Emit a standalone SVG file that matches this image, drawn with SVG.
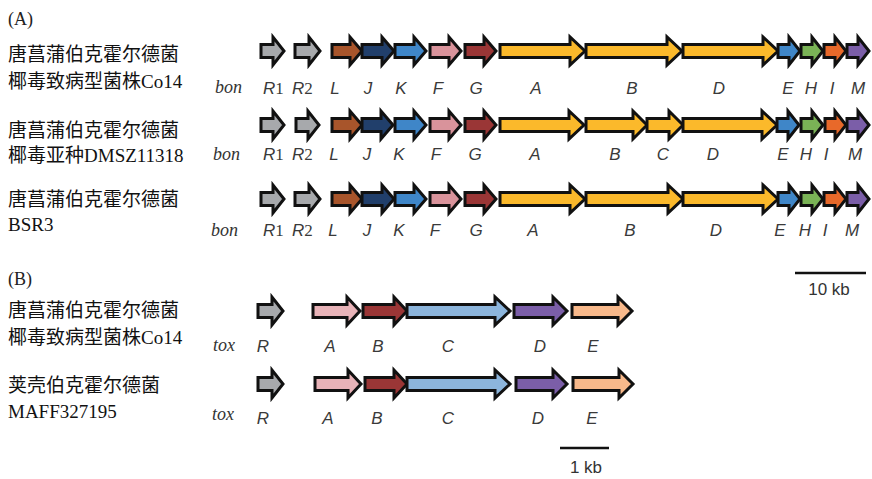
<svg xmlns="http://www.w3.org/2000/svg" width="872" height="479" viewBox="0 0 872 479">
<style>
.g path{stroke:#111;stroke-width:3;stroke-linejoin:miter}
.gl{font-family:"Liberation Sans",Arial,sans-serif;font-style:italic;font-size:17px;fill:#3a3a3a;text-anchor:middle}
.num{font-family:"Liberation Serif",serif;font-style:normal}
.sp{font-family:"Liberation Serif",serif;font-style:italic;font-size:18px;fill:#333}
.cn{font-family:"Noto Sans CJK SC",sans-serif;font-size:19px;font-weight:normal;fill:#111}
.lat{font-family:"Liberation Serif",serif;font-weight:normal}
.pl{font-family:"Liberation Serif",serif;font-size:18px;fill:#222}
.sb{font-family:"Liberation Sans",Arial,sans-serif;font-size:17px;fill:#333;text-anchor:middle}
.gray{fill:#a7a9ac}.brown{fill:#a8552b}.navy{fill:#213f6b}.blue{fill:#3f86c8}
.pink{fill:#d9939b}.red{fill:#9a3636}.yel{fill:#fbb92b}.green{fill:#7ab356}
.orange{fill:#e8692a}.purple{fill:#7b5ea8}.lpink{fill:#e8b3b8}.lblue{fill:#8cb5dc}.peach{fill:#f8b98b}
</style>

<text class="pl" x="8" y="25">(A)</text>
<text class="pl" x="8" y="285">(B)</text>

<g id="strain-a1">
<text class="cn" x="8" y="61">唐菖蒲伯克霍尔德菌</text>
<text class="cn" x="8" y="88">椰毒致病型菌株<tspan class="lat">Co14</tspan></text>
<text class="sp" x="215" y="93">bon</text>
</g>
<g id="strain-a2">
<text class="cn" x="8" y="137">唐菖蒲伯克霍尔德菌</text>
<text class="cn" x="8" y="162">椰毒亚种<tspan class="lat">DMSZ11318</tspan></text>
<text class="sp" x="213" y="160">bon</text>
</g>
<g id="strain-a3">
<text class="cn" x="8" y="206">唐菖蒲伯克霍尔德菌</text>
<text class="cn" x="8" y="231"><tspan class="lat">BSR3</tspan></text>
<text class="sp" x="211" y="236">bon</text>
</g>
<g id="strain-b1">
<text class="cn" x="8" y="317">唐菖蒲伯克霍尔德菌</text>
<text class="cn" x="8" y="344">椰毒致病型菌株<tspan class="lat">Co14</tspan></text>
<text class="sp" x="213" y="351">tox</text>
</g>
<g id="strain-b2">
<text class="cn" x="8" y="392">荚壳伯克霍尔德菌</text>
<text class="cn" x="8" y="418"><tspan class="lat">MAFF327195</tspan></text>
<text class="sp" x="212" y="420">tox</text>
</g>

<!-- Row A1 -->
<g class="g" transform="translate(0,51)">
<g id="a1-R1"><path class="gray" d="M261 -6.5H273V-14L284 0L273 14V6.5H261Z"/><text class="gl" x="263" y="43" style="text-anchor:start">R<tspan class="num">1</tspan></text></g>
<g id="a1-R2"><path class="gray" d="M295 -6.5H309V-14L320 0L309 14V6.5H295Z"/><text class="gl" x="292" y="43" style="text-anchor:start">R<tspan class="num">2</tspan></text></g>
<g id="a1-L"><path class="brown" d="M332 -6.5H350V-14L362 0L350 14V6.5H332Z"/><text class="gl" x="335" y="43">L</text></g>
<g id="a1-J"><path class="navy" d="M362 -6.5H382V-14L394 0L382 14V6.5H362Z"/><text class="gl" x="368" y="43">J</text></g>
<g id="a1-K"><path class="blue" d="M395 -6.5H414V-14L426 0L414 14V6.5H395Z"/><text class="gl" x="401" y="43">K</text></g>
<g id="a1-F"><path class="pink" d="M430 -6.5H449V-14L461 0L449 14V6.5H430Z"/><text class="gl" x="438" y="43">F</text></g>
<g id="a1-G"><path class="red" d="M465 -6.5H484V-14L496 0L484 14V6.5H465Z"/><text class="gl" x="476" y="43">G</text></g>
<g id="a1-A"><path class="yel" d="M500 -6.5H570V-14L585 0L570 14V6.5H500Z"/><text class="gl" x="536" y="43">A</text></g>
<g id="a1-B"><path class="yel" d="M586 -6.5H667V-14L682 0L667 14V6.5H586Z"/><text class="gl" x="632" y="43">B</text></g>
<g id="a1-D"><path class="yel" d="M683 -6.5H763V-14L778 0L763 14V6.5H683Z"/><text class="gl" x="719" y="43">D</text></g>
<g id="a1-E"><path class="blue" d="M778 -6.5H789V-14L800 0L789 14V6.5H778Z"/><text class="gl" x="788" y="43">E</text></g>
<g id="a1-H"><path class="green" d="M801 -6.5H812V-14L823 0L812 14V6.5H801Z"/><text class="gl" x="811" y="43">H</text></g>
<g id="a1-I"><path class="orange" d="M824 -6.5H835V-14L846 0L835 14V6.5H824Z"/><text class="gl" x="832" y="43">I</text></g>
<g id="a1-M"><path class="purple" d="M847 -6.5H858V-14L869 0L858 14V6.5H847Z"/><text class="gl" x="858" y="43">M</text></g>
</g>

<!-- Row A2 -->
<g class="g" transform="translate(0,125)">
<g id="a2-R1"><path class="gray" d="M261 -6.5H273V-14L284 0L273 14V6.5H261Z"/><text class="gl" x="263" y="35" style="text-anchor:start">R<tspan class="num">1</tspan></text></g>
<g id="a2-R2"><path class="gray" d="M296 -6.5H308V-14L319 0L308 14V6.5H296Z"/><text class="gl" x="292" y="35" style="text-anchor:start">R<tspan class="num">2</tspan></text></g>
<g id="a2-L"><path class="brown" d="M332 -6.5H350V-14L362 0L350 14V6.5H332Z"/><text class="gl" x="334" y="35">L</text></g>
<g id="a2-J"><path class="navy" d="M362 -6.5H381V-14L393 0L381 14V6.5H362Z"/><text class="gl" x="367" y="35">J</text></g>
<g id="a2-K"><path class="blue" d="M395 -6.5H414V-14L426 0L414 14V6.5H395Z"/><text class="gl" x="399" y="35">K</text></g>
<g id="a2-F"><path class="pink" d="M430 -6.5H449V-14L461 0L449 14V6.5H430Z"/><text class="gl" x="436" y="35">F</text></g>
<g id="a2-G"><path class="red" d="M465 -6.5H484V-14L496 0L484 14V6.5H465Z"/><text class="gl" x="475" y="35">G</text></g>
<g id="a2-A"><path class="yel" d="M500 -6.5H569V-14L584 0L569 14V6.5H500Z"/><text class="gl" x="535" y="35">A</text></g>
<g id="a2-B"><path class="yel" d="M586 -6.5H633V-14L647 0L633 14V6.5H586Z"/><text class="gl" x="615" y="35">B</text></g>
<g id="a2-C"><path class="yel" d="M647 -6.5H669V-14L683 0L669 14V6.5H647Z"/><text class="gl" x="663" y="35">C</text></g>
<g id="a2-D"><path class="yel" d="M683 -6.5H762V-14L777 0L762 14V6.5H683Z"/><text class="gl" x="713" y="35">D</text></g>
<g id="a2-E"><path class="blue" d="M777 -6.5H788V-14L799 0L788 14V6.5H777Z"/><text class="gl" x="783" y="35">E</text></g>
<g id="a2-H"><path class="green" d="M801 -6.5H812V-14L823 0L812 14V6.5H801Z"/><text class="gl" x="806" y="35">H</text></g>
<g id="a2-I"><path class="orange" d="M825 -6.5H835V-14L846 0L835 14V6.5H825Z"/><text class="gl" x="826" y="35">I</text></g>
<g id="a2-M"><path class="purple" d="M847 -6.5H858V-14L869 0L858 14V6.5H847Z"/><text class="gl" x="855" y="35">M</text></g>
</g>

<!-- Row A3 -->
<g class="g" transform="translate(0,199)">
<g id="a3-R1"><path class="gray" d="M261 -6.5H273V-14L284 0L273 14V6.5H261Z"/><text class="gl" x="263" y="37" style="text-anchor:start">R<tspan class="num">1</tspan></text></g>
<g id="a3-R2"><path class="gray" d="M295 -6.5H309V-14L320 0L309 14V6.5H295Z"/><text class="gl" x="292" y="37" style="text-anchor:start">R<tspan class="num">2</tspan></text></g>
<g id="a3-L"><path class="brown" d="M332 -6.5H350V-14L362 0L350 14V6.5H332Z"/><text class="gl" x="333" y="37">L</text></g>
<g id="a3-J"><path class="navy" d="M362 -6.5H382V-14L394 0L382 14V6.5H362Z"/><text class="gl" x="367" y="37">J</text></g>
<g id="a3-K"><path class="blue" d="M395 -6.5H414V-14L426 0L414 14V6.5H395Z"/><text class="gl" x="399" y="37">K</text></g>
<g id="a3-F"><path class="pink" d="M430 -6.5H449V-14L461 0L449 14V6.5H430Z"/><text class="gl" x="435" y="37">F</text></g>
<g id="a3-G"><path class="red" d="M465 -6.5H484V-14L496 0L484 14V6.5H465Z"/><text class="gl" x="476" y="37">G</text></g>
<g id="a3-A"><path class="yel" d="M500 -6.5H570V-14L585 0L570 14V6.5H500Z"/><text class="gl" x="533" y="37">A</text></g>
<g id="a3-B"><path class="yel" d="M586 -6.5H668V-14L683 0L668 14V6.5H586Z"/><text class="gl" x="630" y="37">B</text></g>
<g id="a3-D"><path class="yel" d="M683 -6.5H763V-14L778 0L763 14V6.5H683Z"/><text class="gl" x="716" y="37">D</text></g>
<g id="a3-E"><path class="blue" d="M778 -6.5H789V-14L800 0L789 14V6.5H778Z"/><text class="gl" x="780" y="37">E</text></g>
<g id="a3-H"><path class="green" d="M801 -6.5H812V-14L823 0L812 14V6.5H801Z"/><text class="gl" x="805" y="37">H</text></g>
<g id="a3-I"><path class="orange" d="M824 -6.5H835V-14L846 0L835 14V6.5H824Z"/><text class="gl" x="825" y="37">I</text></g>
<g id="a3-M"><path class="purple" d="M847 -6.5H858V-14L869 0L858 14V6.5H847Z"/><text class="gl" x="852" y="37">M</text></g>
</g>

<!-- Row B1 -->
<g class="g" transform="translate(0,311)">
<g id="b1-R"><path class="gray" d="M258 -6.5H272V-14L283 0L272 14V6.5H258Z"/><text class="gl" x="263" y="41">R</text></g>
<g id="b1-A"><path class="lpink" d="M313 -6.5H347V-14L360 0L347 14V6.5H313Z"/><text class="gl" x="330" y="41">A</text></g>
<g id="b1-B"><path class="red" d="M363 -6.5H394V-14L407 0L394 14V6.5H363Z"/><text class="gl" x="378" y="41">B</text></g>
<g id="b1-C"><path class="lblue" d="M407 -6.5H495V-14L510 0L495 14V6.5H407Z"/><text class="gl" x="448" y="41">C</text></g>
<g id="b1-D"><path class="purple" d="M514 -6.5H553V-14L567 0L553 14V6.5H514Z"/><text class="gl" x="540" y="41">D</text></g>
<g id="b1-E"><path class="peach" d="M572 -6.5H618V-14L632 0L618 14V6.5H572Z"/><text class="gl" x="593" y="41">E</text></g>
</g>

<!-- Row B2 -->
<g class="g" transform="translate(0,384)">
<g id="b2-R"><path class="gray" d="M258 -6.5H272V-14L283 0L272 14V6.5H258Z"/><text class="gl" x="263" y="40">R</text></g>
<g id="b2-A"><path class="lpink" d="M315 -6.5H348V-14L361 0L348 14V6.5H315Z"/><text class="gl" x="328" y="40">A</text></g>
<g id="b2-B"><path class="red" d="M365 -6.5H394V-14L407 0L394 14V6.5H365Z"/><text class="gl" x="377" y="40">B</text></g>
<g id="b2-C"><path class="lblue" d="M407 -6.5H495V-14L510 0L495 14V6.5H407Z"/><text class="gl" x="448" y="40">C</text></g>
<g id="b2-D"><path class="purple" d="M516 -6.5H553V-14L567 0L553 14V6.5H516Z"/><text class="gl" x="538" y="40">D</text></g>
<g id="b2-E"><path class="peach" d="M573 -6.5H619V-14L633 0L619 14V6.5H573Z"/><text class="gl" x="592" y="40">E</text></g>
</g>

<g id="scale-bars">
<line x1="795" y1="273" x2="866" y2="273" stroke="#111" stroke-width="2.5"/>
<text class="sb" x="829" y="295">10 kb</text>
<line x1="560" y1="448" x2="609" y2="448" stroke="#111" stroke-width="2.5"/>
<text class="sb" x="586" y="473">1 kb</text>
</g>
</svg>
